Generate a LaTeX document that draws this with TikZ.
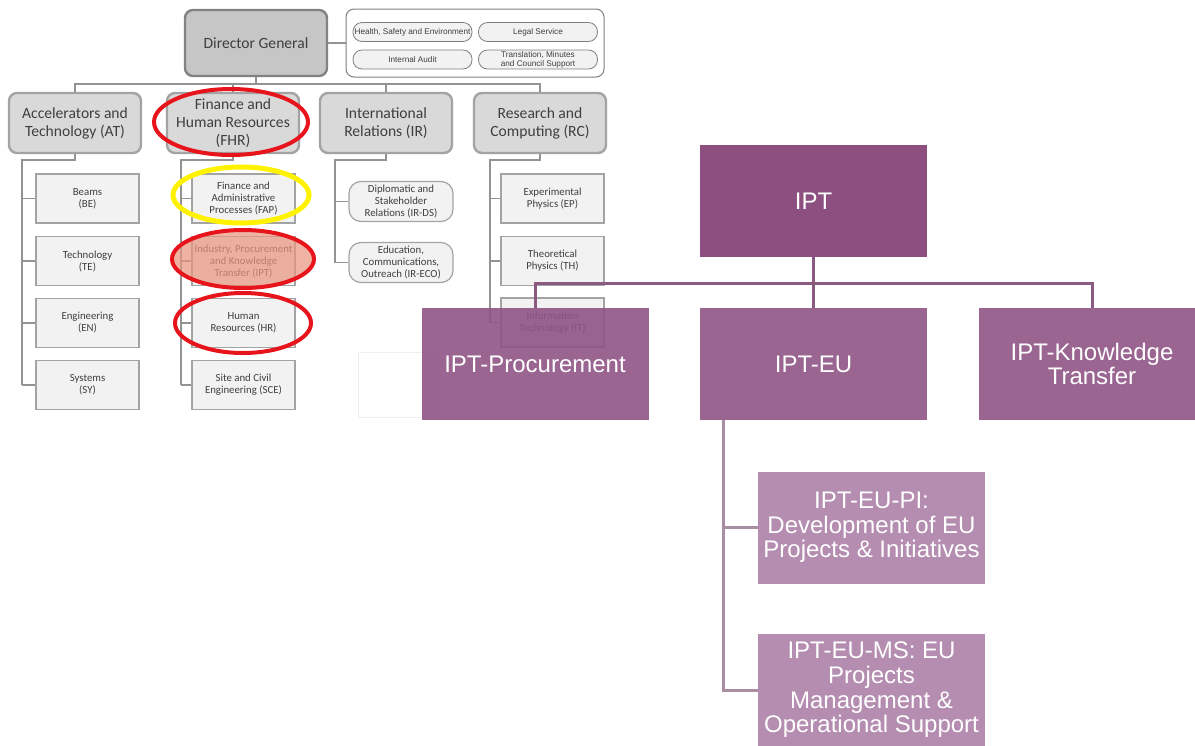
\documentclass[tikz,border=0pt]{standalone}
\usepackage{fontspec}
\setmainfont{Liberation Sans}
\newfontfamily\carlito{Carlito}
\definecolor{iptdark}{HTML}{8C4F80}
\definecolor{iptmid}{HTML}{9A6591}
\definecolor{iptglass}{HTML}{8F5485}
\definecolor{iptlight}{HTML}{B48DB0}
\definecolor{busline}{HTML}{8B5A80}
\definecolor{spineline}{HTML}{A98DA2}
\definecolor{boxgray}{HTML}{D9D9D9}
\definecolor{dggray}{HTML}{C6C6C6}
\definecolor{subgray}{HTML}{F2F2F2}
\definecolor{edgegray}{HTML}{A3A3A3}
\definecolor{txtgray}{HTML}{3F3F3F}
\definecolor{ringred}{HTML}{E8141B}
\definecolor{ringyellow}{HTML}{FFF200}
\definecolor{ringfill}{HTML}{E8967F}
\begin{document}
\begin{tikzpicture}[x=0.5pt,y=-0.5pt,
	dgbox/.style={draw=edgegray!80!black,line width=1.2pt,fill=dggray,rounded corners=4pt,minimum width=71pt,minimum height=33pt,inner sep=0pt,font=\carlito\fontsize{7.8}{9}\selectfont,text=txtgray},
	unitbox/.style={draw=edgegray,line width=1.2pt,fill=boxgray,rounded corners=4pt,minimum width=66pt,minimum height=30pt,inner sep=0pt,align=center,font=\carlito\fontsize{7.8}{9}\selectfont,text=txtgray},
	subbox/.style={draw=edgegray,line width=0.6pt,fill=subgray,minimum width=51.5pt,minimum height=24.5pt,inner sep=0pt,align=center,font=\carlito\fontsize{5.4}{6}\selectfont,text=txtgray},
	irbox/.style={subbox,rounded corners=6pt,minimum width=52pt,minimum height=20pt},
	pill/.style={draw=gray,line width=0.4pt,fill=subgray,rounded corners=4.5pt,minimum width=59.5pt,minimum height=9.5pt,inner sep=0pt,align=center,font=\fontsize{4.1}{4.6}\selectfont,text=txtgray},
	grayline/.style={draw=gray!85,line width=0.8pt},
	ring/.style={draw=ringred,line width=2pt},
	iptbox/.style={fill=iptmid,text=white,minimum width=113.5pt,minimum height=56pt,inner sep=0pt,align=center,font=\fontsize{12}{12.3}\selectfont},
	bus/.style={draw=busline,line width=1.5pt},
	spine/.style={draw=spineline,line width=1.5pt}]
	\useasboundingbox (0,0) rectangle (1195,745);
	\clip (0,0) rectangle (1195,745);
	\def\busy{84}
	\def\topy{160}
	\node[dgbox] (dg) at (256,43) {Director General};
	\node[draw=gray,line width=0.5pt,rounded corners=4pt,minimum width=129pt,minimum height=34pt] (staff) at (475,43) {};
	\node[pill] (hse) at (412.5,32) {Health, Safety and Environment};
	\node[pill] (legal) at (538,32) {Legal Service};
	\node[pill] (audit) at (412.5,59.5) {Internal Audit};
	\node[pill] (trans) at (538,59.5) {Translation, Minutes\\and Council Support};
	\draw[grayline] (dg) -- (staff);
	\node[unitbox] (at) at (75,123) {Accelerators and\\Technology (AT)};
	\node[unitbox] (fhr) at (233,123) {Finance and\\Human Resources\\(FHR)};
	\node[unitbox] (ir) at (386,123) {International\\Relations (IR)};
	\node[unitbox] (rc) at (540,123) {Research and\\Computing (RC)};
	\coordinate (dgbus) at (256,\busy);
	\draw[grayline] (dg.south) -- (dgbus);
	\draw[grayline] (at.north) |- (dgbus) -| (rc.north);
	\draw[grayline] (fhr.north) -- (fhr.north |- dgbus);
	\draw[grayline] (ir.north) -- (ir.north |- dgbus);
	\coordinate (atspine) at (22,\topy);
	\coordinate (fhrspine) at (181,\topy);
	\coordinate (irspine) at (335,\topy);
	\coordinate (rcspine) at (490,\topy);
	\foreach \n/\t/\y in {be/{Beams\\(BE)}/198.5,te/{Technology\\(TE)}/261,en/{Engineering\\(EN)}/323,sy/{Systems\\(SY)}/385}
		\node[subbox] (\n) at (87.5,\y) {\t};
	\foreach \n/\t/\y in {fap/{Finance and\\Administrative\\Processes (FAP)}/198.5,iptu/{Industry, Procurement\\and Knowledge\\Transfer (IPT)}/261,hr/{Human\\Resources (HR)}/323,sce/{Site and Civil\\Engineering (SCE)}/385}
		\node[subbox] (\n) at (243.5,\y) {\t};
	\node[irbox] (ds) at (401,201.5) {Diplomatic and\\Stakeholder\\Relations (IR-DS)};
	\node[irbox] (eco) at (401,262.5) {Education,\\Communications,\\Outreach (IR-ECO)};
	\foreach \n/\t/\y in {ep/{Experimental\\Physics (EP)}/198.5,th/{Theoretical\\Physics (TH)}/261,it/{Information\\Technology (IT)}/322.5}
		\node[subbox] (\n) at (552.5,\y) {\t};
	\draw[grayline] (at.south) |- (atspine) -- (atspine |- sy.west);
	\draw[grayline] (fhr.south) |- (fhrspine) -- (fhrspine |- sce.west);
	\draw[grayline] (ir.south) |- (irspine) -- (irspine |- eco.west);
	\draw[grayline] (rc.south) |- (rcspine) -- (rcspine |- it.west);
	\foreach \n in {be,te,en,sy}
		\draw[grayline] (atspine |- \n.west) -- (\n.west);
	\foreach \n in {fap,iptu,hr,sce}
		\draw[grayline] (fhrspine |- \n.west) -- (\n.west);
	\foreach \n in {ds,eco}
		\draw[grayline] (irspine |- \n.west) -- (\n.west);
	\foreach \n in {ep,th,it}
		\draw[grayline] (rcspine |- \n.west) -- (\n.west);
	\draw[ring] (231,122) ellipse [x radius=38.5pt,y radius=16.5pt];
	\draw[ring,draw=ringyellow,line width=2.5pt] (241,195) ellipse [x radius=34pt,y radius=14pt];
	\draw[ring,fill=ringfill,fill opacity=0.72] (243,259) ellipse [x radius=35.5pt,y radius=14.5pt];
	\draw[ring] (243,323) ellipse [x radius=34pt,y radius=15pt];
	\node[draw=gray!12,fill=white,minimum width=40pt,minimum height=32.5pt] (blank) at (398,384.5) {};
	\node[iptbox,fill=iptdark] (ipt) at (813.5,201) {IPT};
	\node[iptbox,fill=iptglass,fill opacity=0.9,text opacity=1] (proc) at (535,364) {IPT-Procurement};
	\node[iptbox] (eu) at (813.5,364) {IPT-EU};
	\node[iptbox] (kt) at (1092,364) {IPT-Knowledge\\Transfer};
	\node[iptbox,fill=iptlight] (pi) at (871.5,527.5) {IPT-EU-PI:\\Development of EU\\Projects \& Initiatives};
	\node[iptbox,fill=iptlight] (ms) at (871.5,690) {IPT-EU-MS: EU\\Projects\\Management \&\\Operational Support};
	\coordinate (iptbus) at (813.5,283);
	\draw[bus] (ipt.south) -- (eu.north);
	\draw[bus] (proc.north) |- (iptbus) -| (kt.north);
	\coordinate (euspine) at (723,420);
	\draw[spine] (euspine) |- (pi.west);
	\draw[spine] (euspine) |- (ms.west);
\end{tikzpicture}
\end{document}
